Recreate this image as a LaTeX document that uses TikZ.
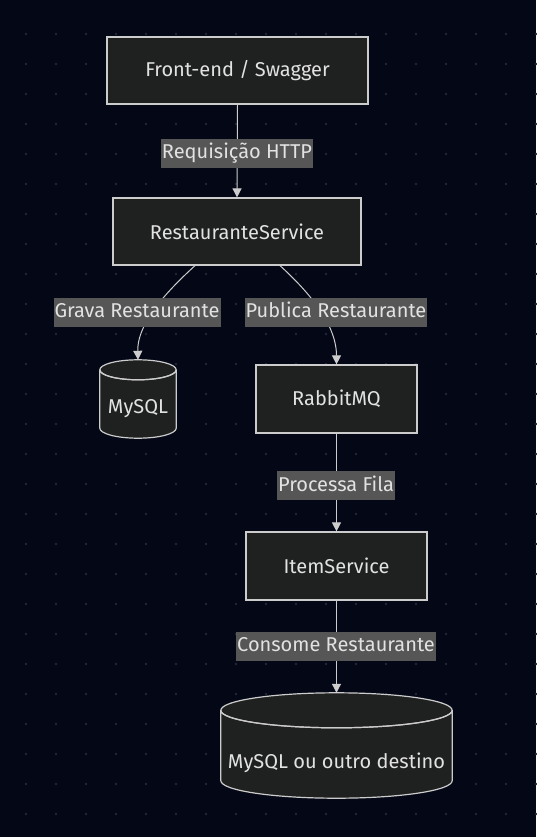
\documentclass[tikz,border=0pt]{standalone}
\usepackage{fontspec}
\setmainfont{Fira Sans}
\usepackage{tikz}
\usetikzlibrary{arrows.meta,calc}
\definecolor{bgnavy}{RGB}{4,8,22}
\definecolor{dotgray}{RGB}{34,40,54}
\definecolor{boxfill}{RGB}{31,32,32}
\definecolor{boxline}{RGB}{204,204,204}
\definecolor{lblfill}{RGB}{86,86,86}
\definecolor{txtgray}{RGB}{226,226,226}
\pgfdeclarelayer{bglayer}
\pgfdeclarelayer{edgelayer}
\pgfdeclarelayer{nodelayer}
\pgfsetlayers{bglayer,edgelayer,nodelayer,main}
\tikzstyle{box}=[rectangle, fill=boxfill, draw=boxline, line width=1.2, text=txtgray, font=\fontsize{20}{24}\selectfont]
\tikzstyle{store}=[rectangle, text=txtgray, font=\fontsize{20}{24}\selectfont, inner sep=0pt]
\tikzstyle{cyl}=[fill=boxfill, draw=boxline, line width=1.2]
\tikzstyle{lbl}=[rectangle, fill=lblfill, text=txtgray, inner xsep=1pt, inner ysep=5pt, text height=15pt, text depth=4pt, font=\fontsize{20}{24}\selectfont]
\tikzstyle{edge}=[draw=boxline, line width=1.0, -{Triangle[length=9pt,width=9pt]}]
% database drum round a store node: body = node, top ellipse above it
\newcommand{\dbdrum}[2]{%
    \filldraw [style=cyl] let \p1=(#1.north west), \p2=(#1.south east), \n1={(\x2-\x1)/2} in
        (\x1,{\y1+#2}) -- (\x1,{\y2+#2}) arc[start angle=180, end angle=360, x radius=\n1, y radius=#2]
        -- (\x2,{\y1+#2}) arc[start angle=0, end angle=360, x radius=\n1, y radius=#2];
    \draw [style=cyl, fill=none] let \p1=(#1.north west), \p2=(#1.south east), \n1={(\x2-\x1)/2} in
        (\x1,{\y1+#2}) arc[start angle=180, end angle=360, x radius=\n1, y radius=#2];
}

\begin{document}
\begin{tikzpicture}[x=1pt, y=-1pt]
            \useasboundingbox (0,0) rectangle (536,837);
            \begin{pgfonlayer}{bglayer}
                \fill [bgnavy] (0,0) rectangle (536,837);
                \foreach \i in {0,...,17}
                    \foreach \j in {0,...,26}
                        \fill [dotgray] (26+30*\i, 34+30*\j) circle (1.3);
            \end{pgfonlayer}
            \begin{pgfonlayer}{nodelayer}
                \node [style=box, minimum width=261, minimum height=67] (front) at (237.5, 70.5) {Front-end / Swagger};
                \node [style=box, minimum width=248, minimum height=67] (rs) at (237, 231.5) {RestauranteService};
                \node [style=store, minimum width=76, minimum height=58] (mysql) at (138, 409) {MySQL};
                \node [style=box, minimum width=161, minimum height=68] (rabbit) at (336.5, 399) {RabbitMQ};
                \node [style=box, minimum width=181, minimum height=68] (item) at (336.5, 566) {ItemService};
                \node [style=store, minimum width=231, minimum height=70] (dest) at (336.5, 763) {MySQL ou outro destino};

                \node [style=lbl] (req) at (237, 153.5) {Requisição HTTP};
                \node [style=lbl] (grava) at (137, 312) {Grava Restaurante};
                \node [style=lbl] (publica) at (336, 312) {Publica Restaurante};
                \node [style=lbl] (fila) at (336, 485.5) {Processa Fila};
                \node [style=lbl] (consome) at (336, 646) {Consome Restaurante};
            \end{pgfonlayer}
            \begin{pgfonlayer}{edgelayer}
                \dbdrum{mysql}{10pt}
                \dbdrum{dest}{17.5pt}
                \draw [style=edge] (front.south) to (rs.north);
                \draw [style=edge] ($(rs.south)+(-42,0)$) .. controls (175,284) and (137,320) .. ($(mysql.north)+(0,-20)$);
                \draw [style=edge] ($(rs.south)+(43,0)$) .. controls (300,284) and (336.5,320) .. (rabbit.north);
                \draw [style=edge] (rabbit.south) to (item.north);
                \draw [style=edge] (item.south) to ($(dest.north)+(0,-35)$);
            \end{pgfonlayer}
        \end{tikzpicture}
\end{document}
